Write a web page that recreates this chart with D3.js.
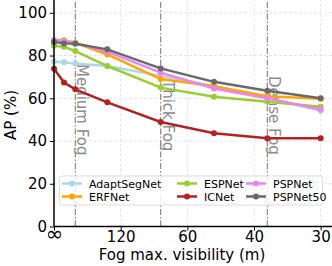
<!DOCTYPE html>
<html>
<head>
  <meta charset="utf-8">
  <style>
    body { margin: 0; background: #fff; }
    svg { font-family: "DejaVu Sans", sans-serif; }
  </style>
</head>
<body>
  <div id="graph"></div>
  <script src="https://cdn.jsdelivr.net/npm/d3@7"></script>
  <script>
    // visibility of each point (m), Infinity = clear weather
    const visibility = [Infinity, 800, 375, 150, 75, 50, 37.5, 30];
    const names = ["AdaptSegNet", "ERFNet", "ESPNet", "ICNet", "PSPNet", "PSPNet50"];
    const colors = ["#add8e6", "#ffa500", "#9acd32", "#b22222", "#ee82ee", "#696969"];
    const adaptSegNet = [77.1, 76.9, 76.3, 75.1, 70.5, 65.8, 60.2, 54.2];
    const erfNet = [87.0, 87.2, 86.0, 80.5, 69.0, 65.7, 61.0, 59.8];
    const espNet = [84.6, 84.1, 82.1, 75.1, 65.0, 60.7, 58.4, 56.0];
    const icNet = [73.8, 67.4, 64.2, 58.1, 48.9, 43.6, 41.3, 41.3];
    const pspNet = [87.2, 86.8, 85.8, 81.8, 72.0, 64.6, 60.0, 54.8];
    const pspNet50 = [86.4, 85.7, 85.5, 82.9, 74.0, 67.7, 63.5, 60.0];
    const series = [adaptSegNet, erfNet, espNet, icNet, pspNet, pspNet50];
    const xTicks = [Infinity, 120, 60, 40, 30];
    const yTicks = [0, 20, 40, 60, 80, 100];
    const fogLines = [375, 75, 37.5];
    const fogLabels = ["Medium Fog", "Thick Fog", "Dense Fog"];

    const width = 332, height = 266;
    const svg = d3.select("#graph").append("svg")
      .attr("width", width).attr("height", height);

    // x runs on 1/visibility
    const x = d3.scaleLinear().domain([0, 0.03475]).range([54, 332]);
    const y = d3.scaleLinear().domain([0, 106]).range([226.5, 0]);
    const inv = v => 1 / v;

    // grid
    const grid = svg.append("g");
    grid.selectAll(".gx").data(xTicks.slice(1)).enter().append("line")
      .attr("x1", d => x(inv(d))).attr("x2", d => x(inv(d)))
      .attr("y1", y(0)).attr("y2", 0)
      .attr("stroke", "#ddd").attr("stroke-width", 0.8).attr("stroke-dasharray", "3,2");
    grid.selectAll(".gy").data(yTicks.slice(1)).enter().append("line")
      .attr("x1", x(0)).attr("x2", width)
      .attr("y1", d => y(d)).attr("y2", d => y(d))
      .attr("stroke", "#ddd").attr("stroke-width", 0.8).attr("stroke-dasharray", "3,2");

    // fog level markers
    svg.selectAll(".fog").data(fogLines).enter().append("line")
      .attr("x1", d => x(inv(d))).attr("x2", d => x(inv(d)))
      .attr("y1", y(0)).attr("y2", 0)
      .attr("stroke", "#888").attr("stroke-width", 1.2)
      .attr("stroke-dasharray", "6,2,1.5,2");
    const labelY = [64, 80, 76];
    svg.selectAll(".fogLabel").data(fogLines).enter().append("text")
      .attr("transform", (d, i) => `translate(${x(inv(d)) + 2},${labelY[i]}) rotate(90)`)
      .attr("fill", "#8c8c8c").attr("font-size", 15)
      .text((d, i) => fogLabels[i]);

    // lines
    const line = d3.line()
      .x((d, i) => x(inv(visibility[i])))
      .y(d => y(d));
    series.forEach((s, k) => {
      const g = svg.append("g");
      g.append("path").datum(s)
        .attr("d", line)
        .attr("fill", "none").attr("stroke", colors[k]).attr("stroke-width", 2.5);
      g.selectAll("circle").data(s).enter().append("circle")
        .attr("cx", (d, i) => x(inv(visibility[i])))
        .attr("cy", d => y(d))
        .attr("r", 3).attr("fill", colors[k]);
    });

    // axes
    const xAxis = svg.append("g")
      .attr("transform", `translate(0,${y(0)})`)
      .call(d3.axisBottom(x).tickValues(xTicks.map(inv)).tickSize(4).tickPadding(1)
        .tickFormat(d => d === 0 ? "∞" : Math.round(1 / d)));
    xAxis.select(".domain").attr("stroke-width", 1.5).attr("d", `M${x(0)},0H${width}`);
    xAxis.selectAll("text").attr("font-size", 15).attr("fill", "#000")
      .attr("font-family", "DejaVu Sans");
    xAxis.selectAll("text").filter(d => d === 0).attr("font-size", 21).attr("dy", "0.45em");

    const yAxis = svg.append("g")
      .attr("transform", `translate(${x(0)},0)`)
      .call(d3.axisLeft(y).tickValues(yTicks).tickSize(4));
    yAxis.select(".domain").attr("stroke-width", 1.5).attr("d", `M0,${y(0)}V0`);
    yAxis.selectAll("text").attr("font-size", 15).attr("fill", "#000")
      .attr("font-family", "DejaVu Sans");

    svg.append("text")
      .attr("transform", `translate(16,115) rotate(-90)`)
      .attr("text-anchor", "middle").attr("font-size", 15)
      .text("AP (%)");
    svg.append("text")
      .attr("x", 182).attr("y", 260)
      .attr("text-anchor", "middle").attr("font-size", 15)
      .text("Fog max. visibility (m)");

    // legend, filled column by column
    const legend = svg.append("g");
    legend.append("rect")
      .attr("x", 59.5).attr("y", 176).attr("width", 263).attr("height", 29)
      .attr("rx", 2).attr("fill", "#fff").attr("fill-opacity", 0.85)
      .attr("stroke", "#ddd");
    const colX = [62, 177, 246];
    names.forEach((n, k) => {
      const cx = colX[Math.floor(k / 2)], cy = 183.5 + (k % 2) * 13;
      legend.append("line")
        .attr("x1", cx).attr("x2", cx + 20).attr("y1", cy).attr("y2", cy)
        .attr("stroke", colors[k]).attr("stroke-width", 2.5);
      legend.append("circle").attr("cx", cx + 10).attr("cy", cy).attr("r", 3)
        .attr("fill", colors[k]);
      legend.append("text")
        .attr("x", cx + 27).attr("y", cy + 4)
        .attr("font-size", 11).text(n);
    });
  </script>
</body>
</html>
